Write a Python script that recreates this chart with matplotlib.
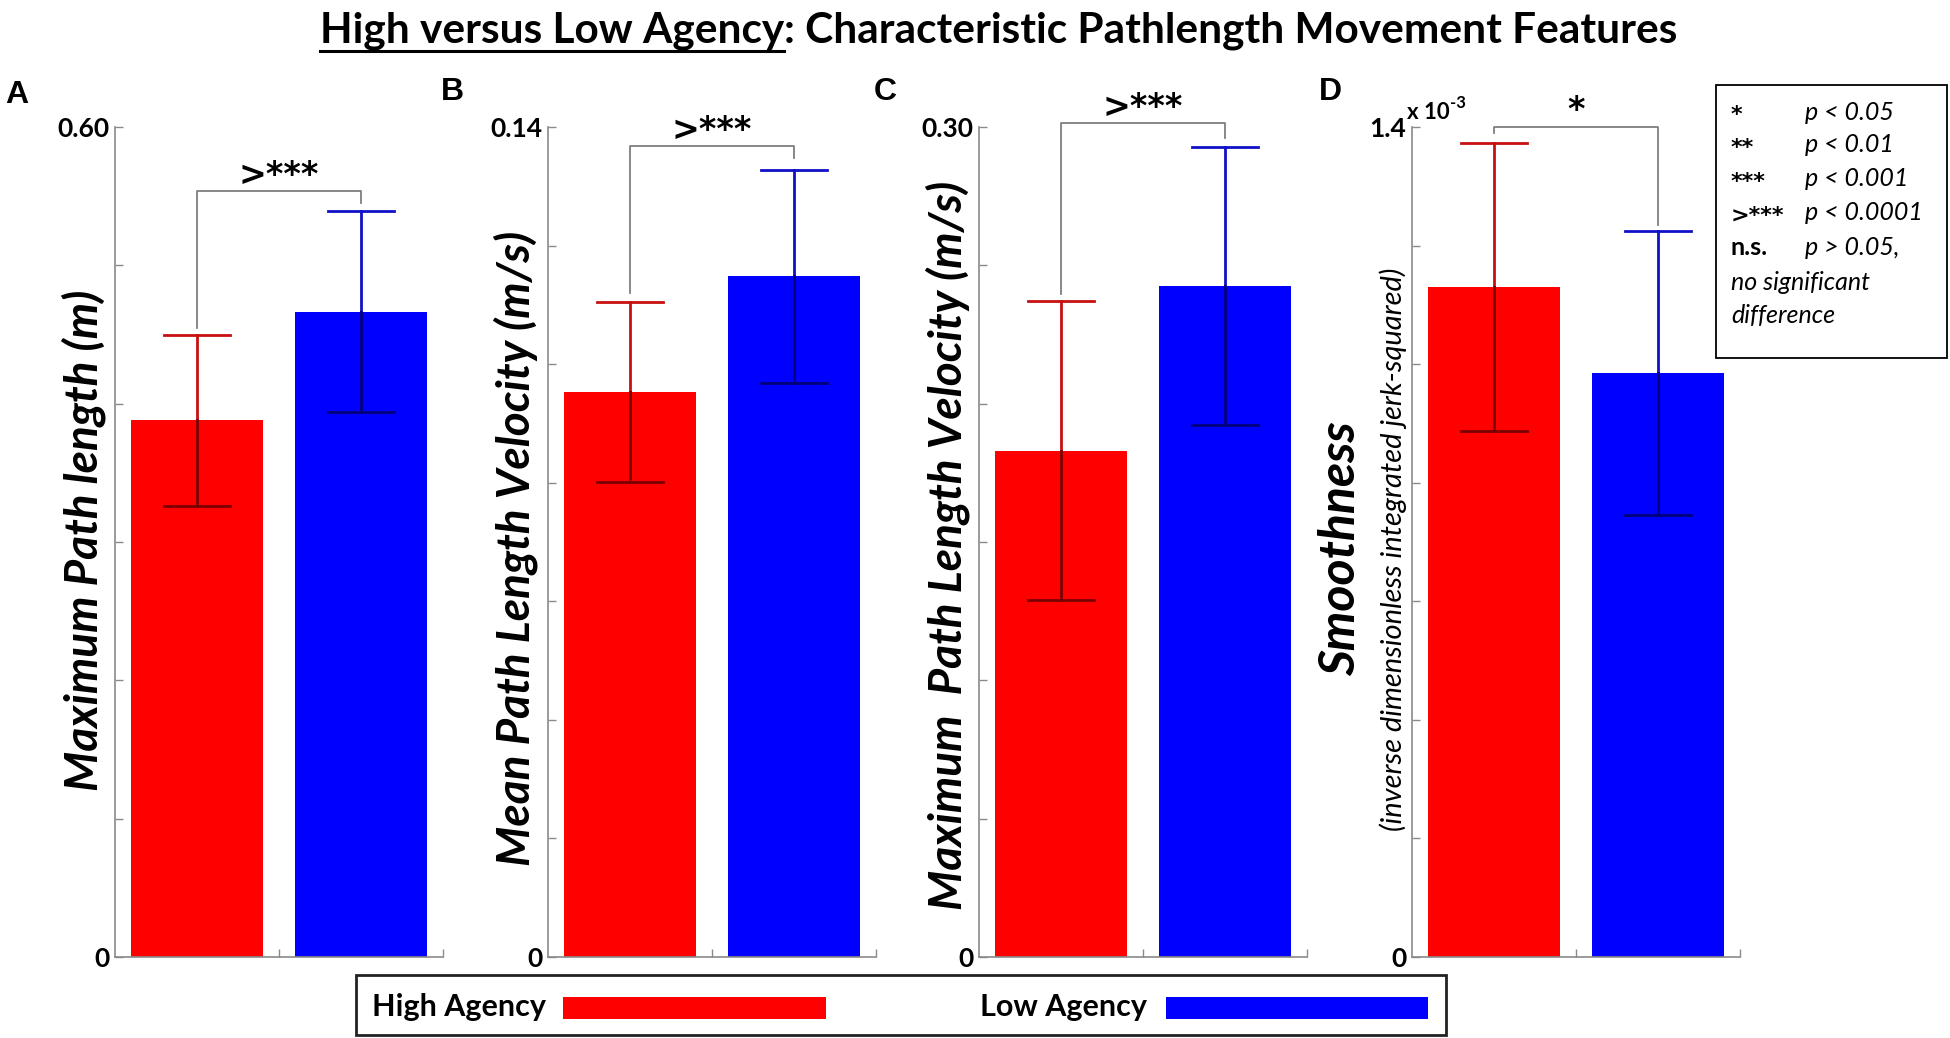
import matplotlib
matplotlib.use('Agg')
import matplotlib.pyplot as plt
import numpy as np
from matplotlib.patches import Rectangle
from matplotlib.lines import Line2D

plt.rcParams['font.family'] = ['Lato', 'DejaVu Sans']

W, H = 1950, 1038

def fx(px):
    return px / W

def fy(py):
    return 1 - py / H

# data
panel_letters = ['A', 'B', 'C', 'D']
ylabels = ['Maximum Path length (m)', 'Mean Path Length Velocity (m/s)',
           'Maximum  Path Length Velocity (m/s)', 'Smoothness']
high_mean = [0.388, 0.0953, 0.183, 1.130]   # D in units of 1e-3
high_err = [0.062, 0.0152, 0.054, 0.243]
low_mean = [0.4665, 0.1148, 0.2426, 0.985]
low_err = [0.0728, 0.0180, 0.0503, 0.240]
y_max = [0.60, 0.14, 0.30, 1.4]
y_step = [0.1, 0.02, 0.05, 0.2]
top_ticklabel = ['0.60', '0.14', '0.30', '1.4']
sig_text = ['>***', '>***', '>***', '*']
bracket_top = [0.554, 0.1368, 0.3013, 1.400]
bracket_left_end = [0.455, 0.112, 0.2396, 1.390]
bracket_right_end = [0.545, 0.1348, 0.296, 1.235]

sig_keys = ['*', '**', '***', '>***', 'n.s.']
sig_desc = ['p < 0.05', 'p < 0.01', 'p < 0.001', 'p < 0.0001', 'p > 0.05,']
group_names = ['High Agency', 'Low Agency']

bar_colors = ['#ff0000', '#0000ff']
err_out = ['#c81010', '#1010c8']
err_in = ['#7a0000', '#00007a']
axis_grey = '#8a8a8a'
star_font = 'DejaVu Sans'

fig = plt.figure(figsize=(W / 100, H / 100), dpi=100)

panel_left = [115, 548, 979, 1412]
label_x = [84, 516, 948]
label_y = [540, 548, 545]
letter_pos = [(17, 95), (452, 92), (885, 92), (1330, 92)]

axes = []
for i in range(4):
    ax = fig.add_axes([fx(panel_left[i]), fy(957), 328 / W, 830 / H])
    axes.append(ax)
    xs = [1, 2]
    means = [high_mean[i], low_mean[i]]
    errs = [high_err[i], low_err[i]]
    ax.bar(xs, means, width=0.8, color=bar_colors, zorder=1)

    # error bars: lighter above the bar, dark where they sit on the bar
    for x, m, e, co, ci in zip(xs, means, errs, err_out, err_in):
        ax.plot([x, x], [m, m + e], color=co, lw=2, zorder=2)
        ax.plot([x - 0.2, x + 0.2], [m + e, m + e], color=co, lw=2, zorder=2)
        ax.plot([x, x], [m - e, m], color=ci, lw=2, zorder=2)
        ax.plot([x - 0.2, x + 0.2], [m - e, m - e], color=ci, lw=2, zorder=2)

    # significance bracket
    ax.plot([1, 1, 2, 2], [bracket_left_end[i], bracket_top[i], bracket_top[i], bracket_right_end[i]],
            color='#7f7f7f', lw=1.3, clip_on=False)
    ax.annotate(sig_text[i], (1.5, bracket_top[i]), xytext=(0, 0), textcoords='offset points',
                ha='center', va='bottom', fontsize=24, fontweight='bold', family=star_font,
                annotation_clip=False)

    ax.set_xlim(0.5, 2.5)
    ax.set_ylim(0, y_max[i])
    ticks = np.arange(0, y_max[i] + y_step[i] / 2, y_step[i])
    ax.set_yticks(ticks)
    ax.set_yticklabels(['0'] + [''] * (len(ticks) - 2) + [top_ticklabel[i]],
                       fontsize=19, fontweight='bold')
    ax.set_xticks([1.5, 2.5])
    ax.set_xticklabels([])
    ax.tick_params(direction='in', length=6, width=1, color=axis_grey, pad=4)
    for s in ['top', 'right']:
        ax.spines[s].set_visible(False)
    for s in ['left', 'bottom']:
        ax.spines[s].set_color(axis_grey)
        ax.spines[s].set_linewidth(1.2)

    fig.text(fx(letter_pos[i][0]), fy(letter_pos[i][1]), panel_letters[i], ha='center', va='center',
             fontsize=23, fontweight='bold', family='Liberation Sans')

    if i < 3:
        fig.text(fx(label_x[i]), fy(label_y[i]), ylabels[i], rotation=90, ha='center', va='center',
                 fontsize=33, fontweight='bold', style='italic')

# panel D extras
axD = axes[3]
t10 = axD.text(-0.015, 1.005, 'x 10', transform=axD.transAxes, ha='left', va='bottom',
               fontsize=16, fontweight='bold')
axD.annotate('-3', xy=(1, 0.55), xycoords=t10, ha='left', va='bottom', fontsize=12, fontweight='bold')
fig.text(fx(1341), fy(549), ylabels[3], rotation=90, ha='center', va='center',
         fontsize=36, fontweight='bold', style='italic')
fig.text(fx(1393), fy(549), '(inverse dimensionless integrated jerk-squared)', rotation=90,
         ha='center', va='center', fontsize=21, style='italic')

# title with the first part underlined
t1 = fig.text(fx(320), fy(42), 'High versus Low Agency', fontsize=30.5, fontweight='bold', va='baseline')
axes[0].annotate(': Characteristic Pathlength Movement Features', xy=(1, 0), xycoords=t1,
                 ha='left', va='bottom', fontsize=30.5, fontweight='bold', annotation_clip=False)
fig.canvas.draw()
bb = t1.get_window_extent().transformed(fig.transFigure.inverted())
fig.add_artist(Line2D([bb.x0, bb.x1], [bb.y0 - 0.001, bb.y0 - 0.001], transform=fig.transFigure,
                      color='black', lw=2.2))

# significance key (top right)
fig.add_artist(Rectangle((fx(1716), fy(358)), (1947 - 1716) / W, (358 - 85) / H,
                         transform=fig.transFigure, fill=False, ec='black', lw=1.3))
row_y = [112, 145, 179, 213, 247, 282, 316]
for k in range(5):
    if k < 4:
        fig.text(fx(1731), fy(row_y[k] + 3), sig_keys[k], ha='left', va='center', fontsize=16,
                 fontweight='bold', family=star_font)
    else:
        fig.text(fx(1731), fy(row_y[k]), sig_keys[k], ha='left', va='center', fontsize=18,
                 fontweight='bold')
    fig.text(fx(1805), fy(row_y[k]), sig_desc[k], ha='left', va='center', fontsize=18, style='italic')
fig.text(fx(1731), fy(row_y[5]), 'no significant', ha='left', va='center', fontsize=18, style='italic')
fig.text(fx(1731), fy(row_y[6]), 'difference', ha='left', va='center', fontsize=18, style='italic')

# group legend (bottom)
fig.add_artist(Rectangle((fx(356), fy(1035)), (1446 - 356) / W, 60 / H,
                         transform=fig.transFigure, fill=False, ec='#222222', lw=2))
legend_text_x = [372, 980]
legend_patch_x = [(563, 826), (1166, 1428)]
for g in range(2):
    fig.text(fx(legend_text_x[g]), fy(1007), group_names[g], ha='left', va='center',
             fontsize=22, fontweight='bold')
    x0, x1 = legend_patch_x[g]
    fig.add_artist(Rectangle((fx(x0), fy(1019)), (x1 - x0) / W, 22 / H,
                             transform=fig.transFigure, color=bar_colors[g], lw=0))

fig.savefig('out.png', dpi=100)
